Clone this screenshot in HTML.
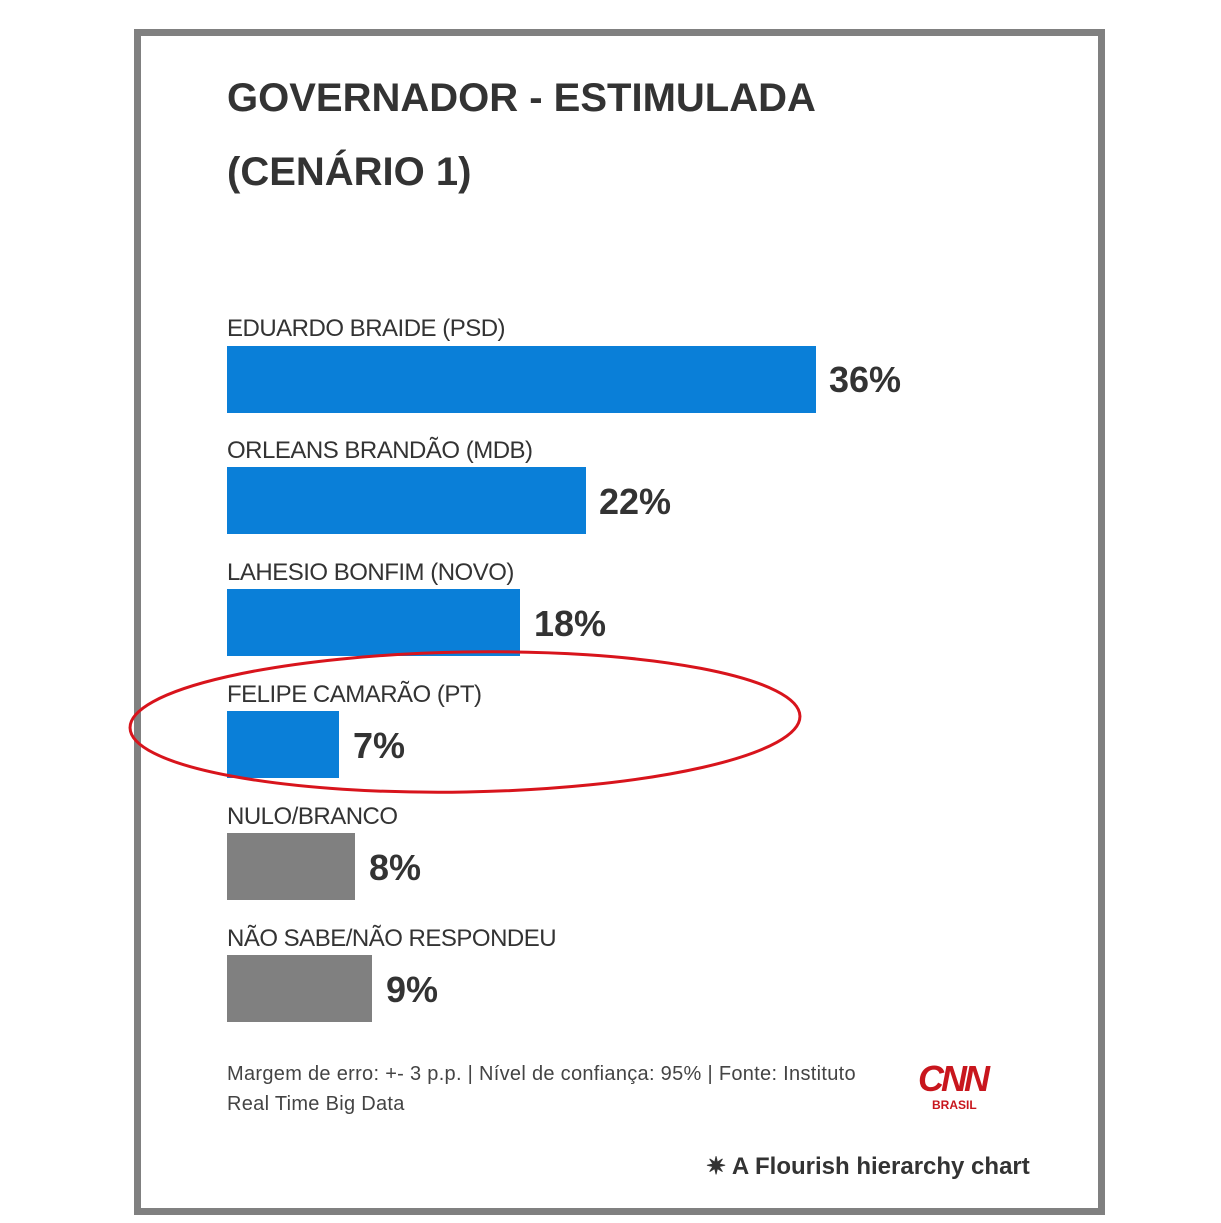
<!DOCTYPE html>
<html><head><meta charset="utf-8"><style>
body{margin:0;width:1221px;height:1223px;background:#fff;position:relative;font-family:"Liberation Sans",sans-serif;overflow:hidden}
.box{position:absolute;left:134px;top:29px;width:957px;height:1172px;border:7px solid #808080;background:#fff}
.t{position:absolute;left:227px;font-weight:bold;font-size:40px;color:#333;letter-spacing:0px}
.l{position:absolute;left:227px;font-size:24px;color:#333;letter-spacing:-0.5px}
.b{position:absolute;left:227px;height:67px}
.v{position:absolute;font-size:36px;font-weight:bold;color:#333}
.f{position:absolute;left:227px;font-size:20px;color:#444;line-height:30px;letter-spacing:0.3px}
</style></head><body>
<div class="box"></div>
<div class="t" style="top:76px">GOVERNADOR - ESTIMULADA</div>
<div class="t" style="top:150px">(CENÁRIO 1)</div>

<div class="l" style="top:315px">EDUARDO BRAIDE (PSD)</div>
<div class="b" style="top:346px;width:589px;background:#0a7fd8"></div>
<div class="v" style="left:829px;top:359px">36%</div>

<div class="l" style="top:437px">ORLEANS BRANDÃO (MDB)</div>
<div class="b" style="top:467px;width:359px;background:#0a7fd8"></div>
<div class="v" style="left:599px;top:481px">22%</div>

<div class="l" style="top:559px">LAHESIO BONFIM (NOVO)</div>
<div class="b" style="top:589px;width:293px;background:#0a7fd8"></div>
<div class="v" style="left:534px;top:603px">18%</div>

<div class="l" style="top:681px">FELIPE CAMARÃO (PT)</div>
<div class="b" style="top:711px;width:112px;background:#0a7fd8"></div>
<div class="v" style="left:353px;top:725px">7%</div>

<div class="l" style="top:803px">NULO/BRANCO</div>
<div class="b" style="top:833px;width:128px;background:#808080"></div>
<div class="v" style="left:369px;top:847px">8%</div>

<div class="l" style="top:925px">NÃO SABE/NÃO RESPONDEU</div>
<div class="b" style="top:955px;width:145px;background:#808080"></div>
<div class="v" style="left:386px;top:969px">9%</div>

<div class="f" style="top:1059px">Margem de erro: +- 3 p.p. | Nível de confiança: 95% | Fonte: Instituto<br>Real Time Big Data</div>
<div style="position:absolute;left:918px;top:1058px;color:#c8161d;font-weight:bold;font-size:36px;letter-spacing:-3px;font-style:italic">CNN</div>
<div style="position:absolute;left:932px;top:1098px;color:#c8161d;font-weight:bold;font-size:12px">BRASIL</div>
<div style="position:absolute;left:706px;top:1152px;font-size:24px;font-weight:bold;color:#333">✷ A Flourish hierarchy chart</div>

<svg style="position:absolute;left:0;top:0" width="1221" height="1223">
<ellipse cx="465" cy="722" rx="335" ry="70" fill="none" stroke="#d8141c" stroke-width="3" transform="rotate(-1 465 722)"/>
</svg>
</body></html>
